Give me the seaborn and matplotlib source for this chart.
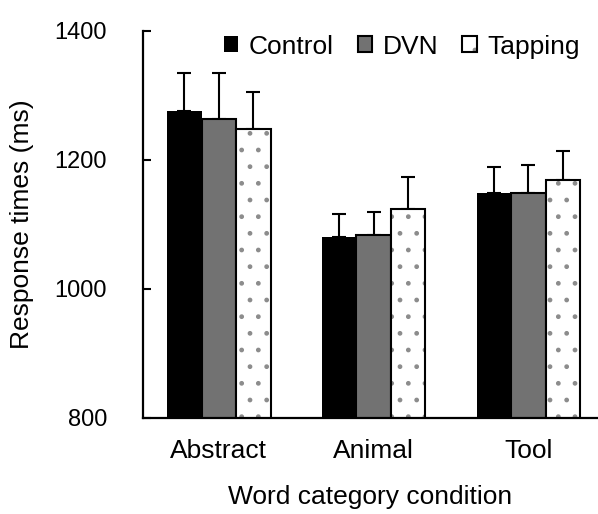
import matplotlib
matplotlib.use('Agg')
import matplotlib.pyplot as plt
import matplotlib.colors as mcolors
import seaborn as sns
import pandas as pd

categories = ['Abstract', 'Animal', 'Tool']
conditions = ['Control', 'DVN', 'Tapping']
control = [1275, 1080, 1148]
dvn = [1263, 1083, 1149]
tapping = [1247, 1124, 1168]
control_err = [59, 36, 41]
dvn_err = [71, 36, 43]
tapping_err = [58, 49, 46]
yticks = [800, 1000, 1200, 1400]

sns.set_style('white')
plt.rcParams['font.family'] = ['Liberation Sans', 'DejaVu Sans']
for k in ['text.color', 'axes.labelcolor', 'xtick.color', 'ytick.color']:
    plt.rcParams[k] = 'black'

rows = []
for cond, vals in zip(conditions, [control, dvn, tapping]):
    for cat, v in zip(categories, vals):
        rows.append({'category': cat, 'condition': cond, 'rt': v})
df = pd.DataFrame(rows)
errs = {'Control': control_err, 'DVN': dvn_err, 'Tapping': tapping_err}

fig = plt.figure(figsize=(5.98, 5.14), dpi=100)
ax = fig.add_axes([143 / 598, 1 - 418 / 514, (598 - 143) / 598, (418 - 30.7) / 514])

sns.barplot(data=df, x='category', y='rt', hue='condition', order=categories,
            hue_order=conditions, palette=['black', '#727272', 'white'],
            width=0.67, errorbar=None, legend=False, saturation=1, ax=ax)

bar_conts = list(ax.containers)
for cond, cont in zip(conditions, bar_conts):
    xs, ys = [], []
    for p in cont.patches:
        xs.append(p.get_x() + p.get_width() / 2)
        ys.append(p.get_height())
        if cond == 'Control':
            p.set_edgecolor('black')
            p.set_linewidth(0)
        elif cond == 'DVN':
            p.set_edgecolor('black')
            p.set_linewidth(1.5)
        else:
            p.set_hatch('.')
            p.set_edgecolor('#8c8c8c')
            p._edgecolor = mcolors.to_rgba('black')
            p.set_linewidth(1.5)
    ax.errorbar(xs, ys, yerr=[[0] * len(ys), errs[cond]], fmt='none',
                ecolor='black', elinewidth=1.5, capsize=5, capthick=1.5, zorder=0.5)

ax.set_ylim(800, 1400)
ax.set_xlim(-0.49, 2.45)
ax.set_yticks(yticks)
ax.set_yticklabels([str(t) for t in yticks])

for s in ['top', 'right']:
    ax.spines[s].set_visible(False)
for s in ['left', 'bottom']:
    ax.spines[s].set_linewidth(1.6)
    ax.spines[s].set_color('black')

ax.tick_params(axis='y', direction='in', length=6, width=1.5, pad=26, labelsize=17,
               left=True, color='black', labelcolor='black')
ax.tick_params(axis='x', length=0, pad=15, labelsize=19, labelcolor='black')

ax.set_ylabel('Response times (ms)', fontsize=19, labelpad=15, color='black')
ax.set_xlabel('Word category condition', fontsize=19, labelpad=16, color='black')

leg = ax.legend(handles=bar_conts, labels=conditions, loc='upper right',
                bbox_to_anchor=(0.96, 0.99), ncol=3, frameon=False, fontsize=19,
                handlelength=0.55, handleheight=0.55, handletextpad=0.4,
                columnspacing=0.9, borderaxespad=0, borderpad=0)
for t in leg.get_texts():
    t.set_color('black')

fig.savefig('out.png', dpi=100)
